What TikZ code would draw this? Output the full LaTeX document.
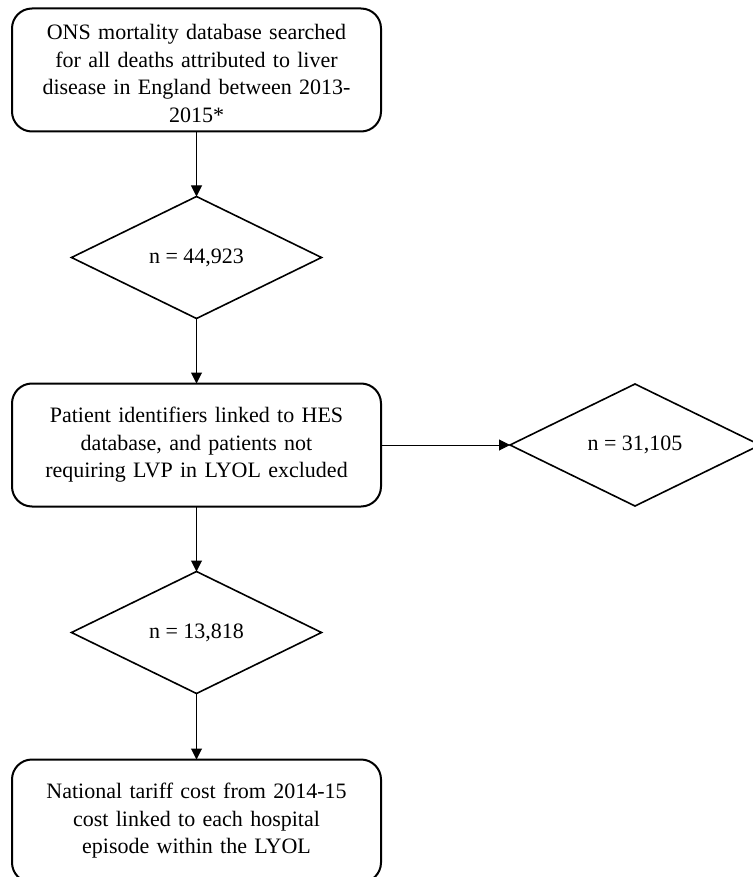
\documentclass[tikz,border=0pt]{standalone}
\usepackage{fontspec}
\setmainfont{Liberation Serif}
\usetikzlibrary{shapes.geometric, positioning, arrows.meta}

\tikzset{
  stepbox/.style={draw, line width=2pt, rounded corners=20pt, outer sep=0pt,
    minimum width=369pt, minimum height=123pt, text width=350pt,
    align=center, font=\fontsize{22}{27.5}\selectfont},
  countbox/.style={draw, diamond, line width=1.6pt, minimum width=250pt,
    minimum height=122pt, inner sep=0pt, outer sep=0pt,
    font=\fontsize{22}{24}\selectfont},
  flow/.style={-{Triangle[length=11pt,width=11pt]}, line width=1pt}
}

\begin{document}
\begin{tikzpicture}[x=1pt, y=1pt, node distance=65pt]
\useasboundingbox (0,0) rectangle (752,-877);

\node[stepbox] (ons) at (196.5,-70)
    {\rule{0pt}{22pt}ONS mortality database searched\\for all deaths attributed to liver\\disease in England between 2013-\\2015*};
\node[countbox, below=of ons] (deaths) {n = 44,923};
\node[stepbox, below=of deaths] (hes)
    {Patient identifiers linked to HES\\database, and patients not\\requiring LVP in LYOL excluded};
\node[countbox, right=129pt of hes] (excl) {n = 31,105};
\node[countbox, below=of hes] (lvp) {n = 13,818};
\node[stepbox, below=66pt of lvp] (tariff)
    {National tariff cost from 2014-15\\cost linked to each hospital\\episode within the LYOL};

\draw[flow] (ons) -- (deaths);
\draw[flow] (deaths) -- (hes);
\draw[flow] (hes) -- (excl);
\draw[flow] (hes) -- (lvp);
\draw[flow] (lvp) -- (tariff);
\end{tikzpicture}
\end{document}
